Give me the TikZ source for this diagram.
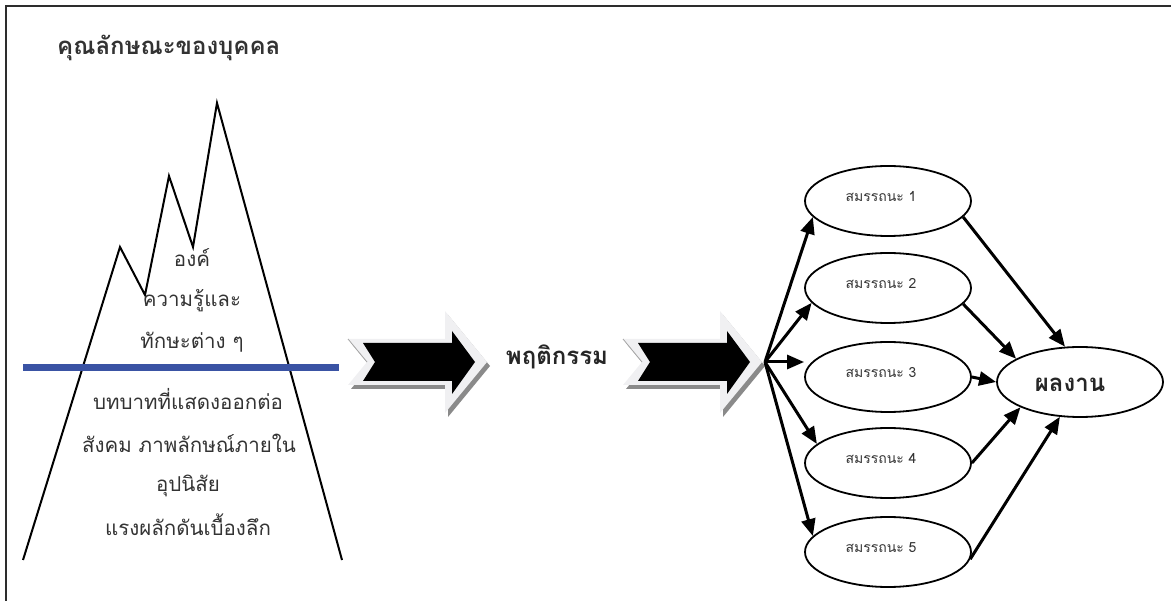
\documentclass[tikz,border=0pt]{standalone}
\usepackage{fontspec}
\newfontfamily\thaifont[Script=Thai]{Loma}
\usetikzlibrary{arrows.meta,shapes.geometric}
\definecolor{lineblue}{RGB}{58,83,164}
\definecolor{txtgray}{RGB}{51,51,51}
\definecolor{arrowlight}{RGB}{240,240,242}
\definecolor{arrowshadow}{RGB}{138,138,138}
\definecolor{framegray}{RGB}{45,45,45}
\tikzset{
  frameline/.style={line width=2.5pt, draw=framegray},
  mountline/.style={line width=2pt, line join=miter},
  waterline/.style={line width=7pt, draw=lineblue},
  mtext/.style={font=\thaifont\fontsize{20.5}{22}\selectfont, text=txtgray, anchor=base, inner sep=0pt},
  titletext/.style={font=\thaifont\bfseries\fontsize{24}{26}\selectfont, text=txtgray, anchor=base west, inner sep=0pt},
  boldtext/.style={font=\thaifont\bfseries\fontsize{24}{26}\selectfont, text=black!85, anchor=base, inner sep=0pt},
  comp/.style={ellipse, draw, line width=1.8pt, minimum width=166pt, minimum height=70pt, inner sep=0pt},
  comptext/.style={font=\thaifont\fontsize{14}{16}\selectfont, text=txtgray, anchor=base, inner sep=0pt},
  link/.style={line width=3pt, -{Triangle[length=17pt,width=14pt]}},
}
\begin{document}
\begin{tikzpicture}[x=1pt,y=-1pt]
\useasboundingbox (0,0) rectangle (1171,601);
% frame
\draw[frameline] (6,601) -- (6,6) -- (1171,6);
% title
\node[titletext] (title) at (57,55) {คุณลักษณะของบุคคล};
% mountain
\draw[mountline] (23,560) -- (120,247) -- (145,295) -- (169,176) -- (193,247) -- (217,103) -- (342,560);
\draw[waterline] (23,368) -- (339,368);
\node[mtext] (t1) at (192,267) {องค์};
\node[mtext] (t2) at (192,307) {ความรู้และ};
\node[mtext] (t3) at (192,349) {ทักษะต่าง ๆ};
\node[mtext] (t4) at (188,410) {บทบาทที่แสดงออกต่อ};
\node[mtext] (t5) at (189,453) {สังคม ภาพลักษณ์ภายใน};
\node[mtext] (t6) at (188,492) {อุปนิสัย};
\node[mtext] (t7) at (188,536) {แรงผลักดันเบื้องลึก};
% big arrows
\foreach \dx in {0,275}{
  \begin{scope}[xshift=\dx pt]
    \fill[arrowshadow] (351,343) -- (448,343) -- (448,315) -- (490,366) -- (448,417) -- (448,389) -- (351,389) -- (370,366) -- cycle;
    \fill[arrowlight] (348,339) -- (445,339) -- (445,311) -- (487,362) -- (445,413) -- (445,385) -- (348,385) -- (367,362) -- cycle;
    \draw[gray!70, line width=0.8pt] (348,339) -- (367,362);
    \fill[black] (363,343) -- (452,343) -- (452,331) -- (475,362) -- (452,394) -- (452,381) -- (363,381) -- (375,362) -- cycle;
  \end{scope}
}
\node[boldtext] (beh) at (557,365) {พฤติกรรม};
% competencies
\coordinate (fan) at (765,362);
\node[comp] (e1) at (888,201) {};
\node[comp] (e2) at (888,288) {};
\node[comp] (e3) at (888,377) {};
\node[comp] (e4) at (888,463) {};
\node[comp] (e5) at (888,552) {};
\node[comp] (res) at (1080,382) {};
\node[comptext] at (881,202) {สมรรถนะ 1};
\node[comptext] at (881,289) {สมรรถนะ 2};
\node[comptext] at (881,378) {สมรรถนะ 3};
\node[comptext] at (881,464) {สมรรถนะ 4};
\node[comptext] at (881,553) {สมรรถนะ 5};
\node[boldtext] (restext) at (1070,392) {ผลงาน};
% fan arrows
\draw[link] (fan) -- (e1.192);
\draw[link] (fan) -- (e2.191);
\draw[link] (fan) -- (e3.west |- fan);
\draw[link] (fan) -- (e4.165);
\draw[link] (fan) -- (e5.168);
% to result
\draw[link] (e1.348) -- (res.113);
\draw[link] (e2.348) -- (res.160);
\draw[link] (e3.east) -- (res.west);
\draw[link] (e4.east) -- (res.203);
\draw[link] (e5.355) -- (res.240);
\end{tikzpicture}
\end{document}
